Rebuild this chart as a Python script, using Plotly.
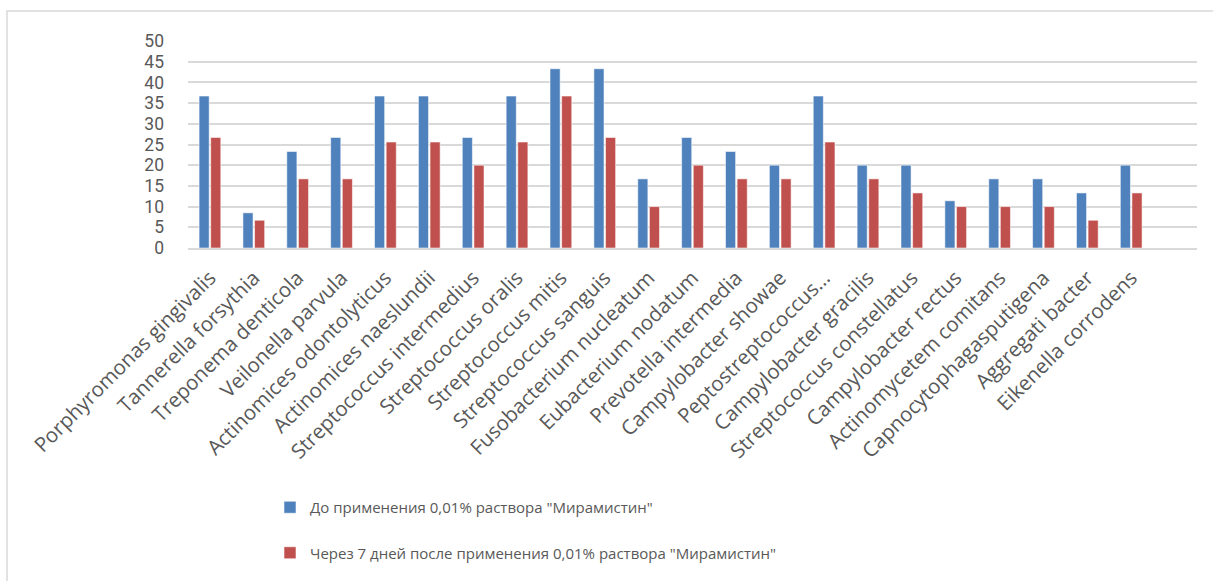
import plotly.graph_objects as go

categories = [
    "Porphyromonas gingivalis", "Tannerella forsythia", "Treponema denticola",
    "Veilonella parvula", "Actinomices odontolyticus", "Actinomices naeslundii",
    "Streptococcus intermedius", "Streptococcus oralis", "Streptococcus mitis",
    "Streptococcus sanguis", "Fusobacterium nucleatum", "Eubacterium nodatum",
    "Prevotella intermedia", "Campylobacter showae", "Peptostreptococcus…",
    "Campylobacter gracilis", "Streptococcus constellatus", "Campylobacter rectus",
    "Actinomycetem comitans", "Capnocytophagasputigena", "Aggregati bacter",
    "Eikenella corrodens",
]
before = [36.7, 8.5, 23.3, 26.7, 36.7, 36.7, 26.7, 36.7, 43.3, 43.3, 16.7,
          26.7, 23.3, 20.0, 36.7, 20.0, 20.0, 11.4, 16.7, 16.7, 13.3, 20.0]
after = [26.7, 6.7, 16.7, 16.7, 25.6, 25.6, 20.0, 25.6, 36.7, 26.7, 10.0,
         20.0, 16.7, 16.7, 25.6, 16.7, 13.3, 10.0, 10.0, 10.0, 6.7, 13.3]
series_names = [
    'До применения 0,01% раствора "Мирамистин"',
    'Через 7 дней после применения 0,01% раствора "Мирамистин"',
]
y_ticks = list(range(0, 55, 5))

FONT = "Open Sans"
GRAY = "#595959"

fig = go.Figure()
fig.add_trace(go.Bar(
    x=categories, y=before, name=series_names[0], legendgroup="a",
    marker=dict(color="#4f81bd", line=dict(color="rgba(255,255,255,0.55)", width=1)),
))
fig.add_trace(go.Bar(
    x=categories, y=after, name=series_names[1], legendgroup="b",
    marker=dict(color="#c0504d", line=dict(color="rgba(255,255,255,0.55)", width=1)),
))

L, R, T, B = 188, 16, 41, 333
W, H = 1213, 581
pw, ph = W - L - R, H - T - B

fig.update_layout(
    width=W, height=H,
    margin=dict(l=L, r=R, t=T, b=B, pad=0, autoexpand=False),
    paper_bgcolor="white", plot_bgcolor="white",
    font=dict(family=FONT, color=GRAY),
    barmode="group", bargap=0.47, bargroupgap=0.13,
    showlegend=True,
    legend=dict(
        xref="container", yref="container",
        x=270 / W, xanchor="left",
        y=1 - 491 / H, yanchor="top",
        font=dict(family=FONT, size=15, color=GRAY),
        tracegroupgap=23, traceorder="grouped",
        itemwidth=30, bgcolor="rgba(0,0,0,0)",
    ),
    xaxis=dict(
        type="category", range=[-0.5, 22.5], automargin=False,
        tickmode="array", tickvals=categories, ticktext=categories,
        tickangle=-45, tickfont=dict(family=FONT, size=20.5, color=GRAY),
        showline=True, linecolor="#d9d9d9", linewidth=1.5,
        showgrid=False, ticks="", ticklabelstandoff=8,
    ),
    yaxis=dict(
        range=[0, 50], tickvals=y_ticks, automargin=False,
        tickfont=dict(family="Roboto", size=17.5, color=GRAY),
        showgrid=True, gridcolor="#d9d9d9", gridwidth=1.5,
        zeroline=False, ticks="", ticklabelstandoff=23,
    ),
    shapes=[dict(
        type="rect", xref="paper", yref="paper",
        x0=(7 - L) / pw, x1=(W + 5 - L) / pw,
        y0=-(H + 5 - T - ph) / ph, y1=(T + ph - 11) / ph,
        line=dict(color="#d9d9d9", width=1.5), fillcolor="rgba(0,0,0,0)",
        layer="below",
    )],
)

fig.write_html("out.html")
